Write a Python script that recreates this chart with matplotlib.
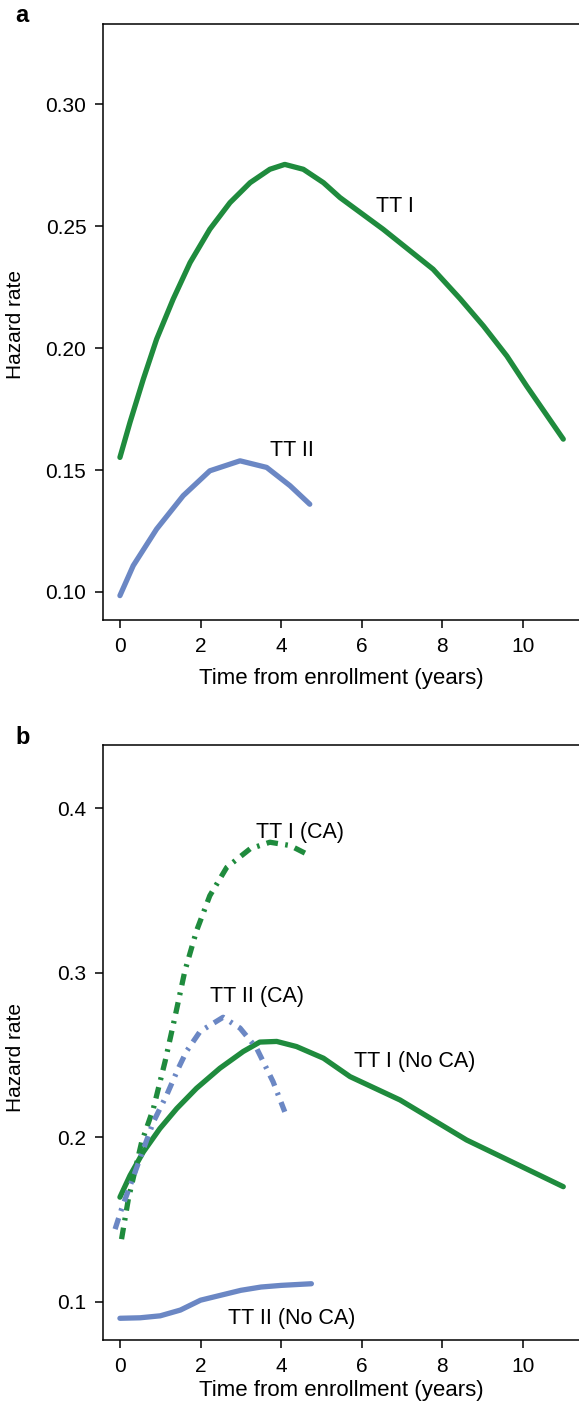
# Hazard rate curves, panels a and b
import matplotlib.pyplot as plt

plt.rcParams['font.family'] = ['Liberation Sans', 'DejaVu Sans']

# panel a data
a_tt1_x = [0.0, 0.25, 0.58, 0.91, 1.32, 1.74, 2.23, 2.73, 3.23, 3.72, 4.09, 4.55, 5.05, 5.46,
           6.53, 7.77, 8.44, 9.02, 9.6, 10.09, 11.0]
a_tt1_y = [0.1552, 0.1696, 0.1873, 0.2037, 0.2201, 0.2351, 0.2488, 0.2597, 0.2679, 0.2734, 0.2754,
           0.2734, 0.2679, 0.2618, 0.2488, 0.2324, 0.2203, 0.2091, 0.1968, 0.1845, 0.1627]
a_tt2_x = [0.0, 0.33, 0.91, 1.57, 2.23, 2.98, 3.64, 4.22, 4.71]
a_tt2_y = [0.0985, 0.1108, 0.1258, 0.1395, 0.1497, 0.1538, 0.1511, 0.1436, 0.136]

# panel b data
b_tt1_noca_x = [0.0, 0.25, 0.58, 0.99, 1.41, 1.9, 2.48, 3.06, 3.47, 3.89, 4.38, 5.05, 5.71,
                6.95, 8.6, 11.0]
b_tt1_noca_y = [0.1636, 0.1768, 0.1911, 0.2053, 0.2175, 0.2298, 0.242, 0.2522, 0.2579, 0.2583,
                0.2552, 0.2481, 0.2369, 0.2227, 0.1984, 0.170]
b_tt1_ca_x = [0.04, 0.21, 0.54, 0.83, 1.12, 1.36, 1.61, 1.9, 2.23, 2.65, 3.23, 3.72, 4.22, 4.63]
b_tt1_ca_y = [0.1381, 0.1626, 0.1972, 0.2175, 0.2461, 0.2725, 0.301, 0.3255, 0.3469, 0.3641,
              0.3754, 0.3794, 0.3774, 0.3723]
b_tt2_ca_x = [-0.12, 0.04, 0.83, 1.16, 1.45, 1.65, 1.99, 2.56, 2.98, 3.39, 3.8, 4.09]
b_tt2_ca_y = [0.1442, 0.1564, 0.2094, 0.2257, 0.242, 0.2522, 0.2644, 0.273, 0.2664, 0.2542,
              0.2338, 0.2155]
b_tt2_noca_x = [0.0, 0.5, 1.0, 1.5, 2.0, 2.5, 3.0, 3.5, 4.0, 4.75]
b_tt2_noca_y = [0.090, 0.0903, 0.0915, 0.095, 0.101, 0.104, 0.107, 0.109, 0.110, 0.111]

green = '#1f8b3d'
blue = '#6b87c4'
dashdot = (0, (2.2, 1.4, 0.5, 1.4))

fig = plt.figure(figsize=(5.79, 14.07), dpi=100)
ax1 = fig.add_axes([103 / 579, 1 - 620 / 1407, 1 - 103 / 579, 596 / 1407])
ax2 = fig.add_axes([103 / 579, 1 - 1340 / 1407, 1 - 103 / 579, 595 / 1407])

for ax in (ax1, ax2):
    ax.spines['right'].set_visible(False)
    for s in ('left', 'top', 'bottom'):
        ax.spines[s].set_linewidth(1.1)
    ax.tick_params(direction='out', length=6, width=1.1, labelsize=15, pad=6)
    ax.set_xlim(-0.42, 11.39)
    ax.set_xticks([0, 2, 4, 6, 8, 10])
    ax.set_ylabel('Hazard rate', fontsize=15)

ax1.set_xlabel('Time from enrollment (years)', fontsize=16, labelpad=9)
ax2.set_xlabel('Time from enrollment (years)', fontsize=16, labelpad=3)
ax1.yaxis.set_label_coords(-0.164, 0.495)
ax2.yaxis.set_label_coords(-0.164, 0.474)

# panel a
ax1.plot(a_tt1_x, a_tt1_y, color=green, lw=3.8, solid_capstyle='round', solid_joinstyle='round')
ax1.plot(a_tt2_x, a_tt2_y, color=blue, lw=3.8, solid_capstyle='round', solid_joinstyle='round')
ax1.set_ylim(0.0885, 0.333)
ax1.set_yticks([0.10, 0.15, 0.20, 0.25, 0.30])
ax1.set_yticklabels(['0.10', '0.15', '0.20', '0.25', '0.30'])
ax1.text(6.82, 0.2583, 'TT I', fontsize=15.5, ha='center', va='center')
ax1.text(4.26, 0.158, 'TT II', fontsize=15.5, ha='center', va='center')

# panel b
ax2.plot(b_tt1_noca_x, b_tt1_noca_y, color=green, lw=3.8, solid_capstyle='round', solid_joinstyle='round')
ax2.plot(b_tt2_noca_x, b_tt2_noca_y, color=blue, lw=3.8, solid_capstyle='round', solid_joinstyle='round')
ax2.plot(b_tt1_ca_x, b_tt1_ca_y, color=green, lw=3.8, linestyle=dashdot)
ax2.plot(b_tt2_ca_x, b_tt2_ca_y, color=blue, lw=3.8, linestyle=dashdot)
ax2.set_ylim(0.0768, 0.4385)
ax2.set_yticks([0.1, 0.2, 0.3, 0.4])
ax2.set_yticklabels(['0.1', '0.2', '0.3', '0.4'])
ax2.text(4.47, 0.3856, 'TT I (CA)', fontsize=15.5, ha='center', va='center')
ax2.text(3.39, 0.2854, 'TT II (CA)', fontsize=15.5, ha='center', va='center')
ax2.text(7.32, 0.246, 'TT I (No CA)', fontsize=15.5, ha='center', va='center')
ax2.text(4.26, 0.090, 'TT II (No CA)', fontsize=15.5, ha='center', va='center')

fig.text(15 / 579, 1 - 15 / 1407, 'a', fontsize=17, fontweight='bold', ha='left', va='center')
fig.text(15 / 579, 1 - 737 / 1407, 'b', fontsize=17, fontweight='bold', ha='left', va='center')

fig.savefig('out.png', dpi=100)
